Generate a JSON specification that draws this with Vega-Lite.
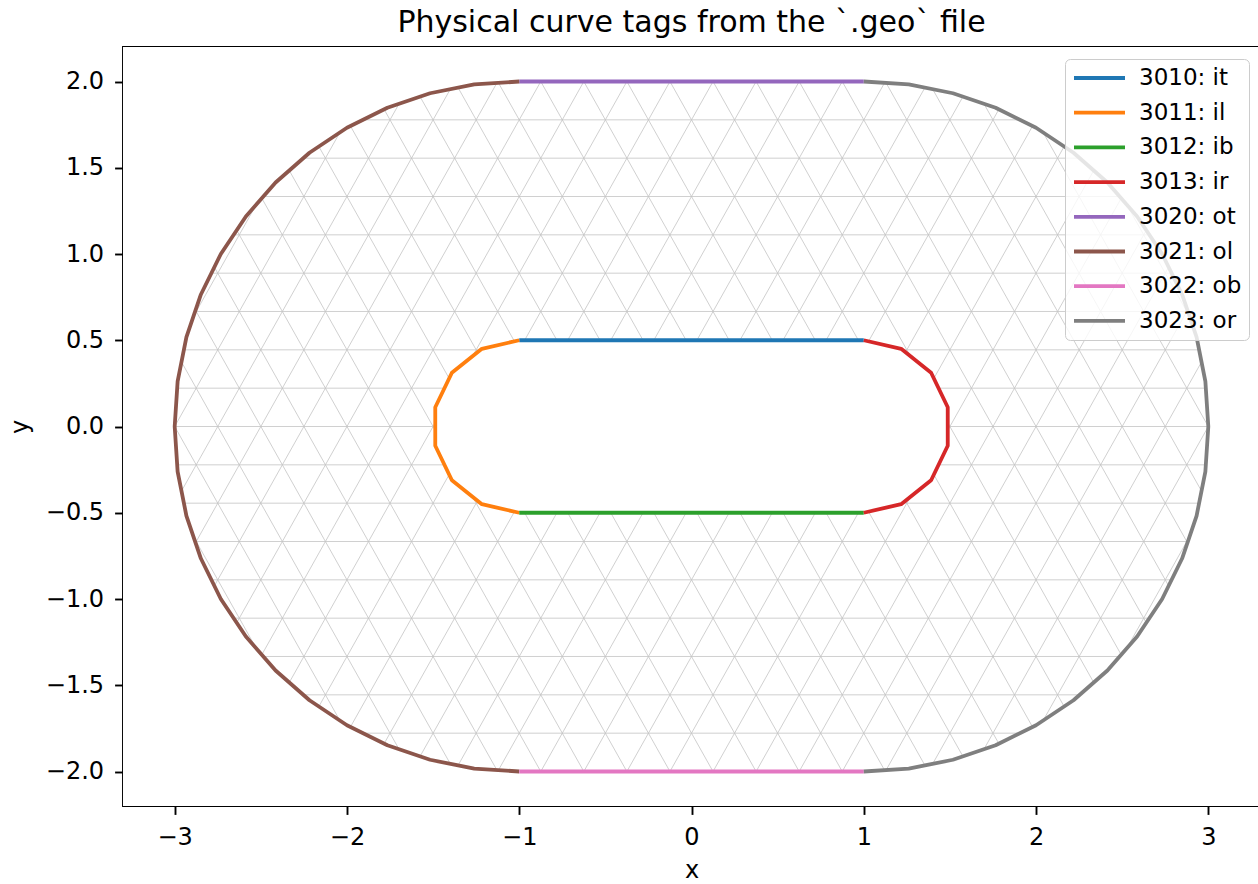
{
"$schema": "https://vega.github.io/schema/vega-lite/v6.json",
"width": 1137, "height": 759,
"autosize": {"type": "none"},
"padding": {"left": 123, "top": 47, "right": 0, "bottom": 78},
"background": "white",
"title": {"text": "Physical curve tags from the `.geo` file", "fontSize": 30, "font": "DejaVu Sans", "fontWeight": "normal", "color": "black", "anchor": "middle", "baseline": "alphabetic", "offset": 14, "dy": 29, "frame": "group"},
"config": {
  "font": "DejaVu Sans",
  "view": {"stroke": "black", "strokeWidth": 1.9},
  "axis": {"grid": false, "domain": false, "tickColor": "black", "tickWidth": 1.9, "tickSize": 8.4, "labelFontSize": 24, "labelColor": "black", "labelPadding": 11, "titleFontSize": 24, "titleFontWeight": "normal", "titleColor": "black", "labelFont": "DejaVu Sans", "titleFont": "DejaVu Sans", "labelFlush": false, "labelOverlap": false}
},
"encoding": {
  "x": {"field": "x", "type": "quantitative", "scale": {"domain": [-3.3, 3.3], "nice": false, "zero": false}, "axis": {"values": [-3,-2,-1,0,1,2,3], "format": "d", "title": "x", "titlePadding": 9.5}},
  "y": {"field": "y", "type": "quantitative", "scale": {"domain": [-2.2, 2.2], "nice": false, "zero": false}, "axis": {"values": [-2,-1.5,-1,-0.5,0,0.5,1,1.5,2], "format": ".1f", "title": "y", "titlePadding": 13}}
},
"layer": [
{
  "data": {"values": [
    {"x":-3.3,"y":-1.7778,"xe":3.3,"ye":-1.7778},
    {"x":-3.3,"y":-1.5556,"xe":3.3,"ye":-1.5556},
    {"x":-3.3,"y":-1.3333,"xe":3.3,"ye":-1.3333},
    {"x":-3.3,"y":-1.1111,"xe":3.3,"ye":-1.1111},
    {"x":-3.3,"y":-0.8889,"xe":3.3,"ye":-0.8889},
    {"x":-3.3,"y":-0.6667,"xe":3.3,"ye":-0.6667},
    {"x":-3.3,"y":-0.4444,"xe":3.3,"ye":-0.4444},
    {"x":-3.3,"y":-0.2222,"xe":3.3,"ye":-0.2222},
    {"x":-3.3,"y":0,"xe":3.3,"ye":0},
    {"x":-3.3,"y":0.2222,"xe":3.3,"ye":0.2222},
    {"x":-3.3,"y":0.4444,"xe":3.3,"ye":0.4444},
    {"x":-3.3,"y":0.6667,"xe":3.3,"ye":0.6667},
    {"x":-3.3,"y":0.8889,"xe":3.3,"ye":0.8889},
    {"x":-3.3,"y":1.1111,"xe":3.3,"ye":1.1111},
    {"x":-3.3,"y":1.3333,"xe":3.3,"ye":1.3333},
    {"x":-3.3,"y":1.5556,"xe":3.3,"ye":1.5556},
    {"x":-3.3,"y":1.7778,"xe":3.3,"ye":1.7778},
    {"x":-5.2375,"y":-2.2,"xe":-2.7625,"ye":2.2},
    {"x":-4.9875,"y":-2.2,"xe":-2.5125,"ye":2.2},
    {"x":-4.7375,"y":-2.2,"xe":-2.2625,"ye":2.2},
    {"x":-4.4875,"y":-2.2,"xe":-2.0125,"ye":2.2},
    {"x":-4.2375,"y":-2.2,"xe":-1.7625,"ye":2.2},
    {"x":-3.9875,"y":-2.2,"xe":-1.5125,"ye":2.2},
    {"x":-3.7375,"y":-2.2,"xe":-1.2625,"ye":2.2},
    {"x":-3.4875,"y":-2.2,"xe":-1.0125,"ye":2.2},
    {"x":-3.2375,"y":-2.2,"xe":-0.7625,"ye":2.2},
    {"x":-2.9875,"y":-2.2,"xe":-0.5125,"ye":2.2},
    {"x":-2.7375,"y":-2.2,"xe":-0.2625,"ye":2.2},
    {"x":-2.4875,"y":-2.2,"xe":-0.0125,"ye":2.2},
    {"x":-2.2375,"y":-2.2,"xe":0.2375,"ye":2.2},
    {"x":-1.9875,"y":-2.2,"xe":0.4875,"ye":2.2},
    {"x":-1.7375,"y":-2.2,"xe":0.7375,"ye":2.2},
    {"x":-1.4875,"y":-2.2,"xe":0.9875,"ye":2.2},
    {"x":-1.2375,"y":-2.2,"xe":1.2375,"ye":2.2},
    {"x":-0.9875,"y":-2.2,"xe":1.4875,"ye":2.2},
    {"x":-0.7375,"y":-2.2,"xe":1.7375,"ye":2.2},
    {"x":-0.4875,"y":-2.2,"xe":1.9875,"ye":2.2},
    {"x":-0.2375,"y":-2.2,"xe":2.2375,"ye":2.2},
    {"x":0.0125,"y":-2.2,"xe":2.4875,"ye":2.2},
    {"x":0.2625,"y":-2.2,"xe":2.7375,"ye":2.2},
    {"x":0.5125,"y":-2.2,"xe":2.9875,"ye":2.2},
    {"x":0.7625,"y":-2.2,"xe":3.2375,"ye":2.2},
    {"x":1.0125,"y":-2.2,"xe":3.4875,"ye":2.2},
    {"x":1.2625,"y":-2.2,"xe":3.7375,"ye":2.2},
    {"x":1.5125,"y":-2.2,"xe":3.9875,"ye":2.2},
    {"x":1.7625,"y":-2.2,"xe":4.2375,"ye":2.2},
    {"x":2.0125,"y":-2.2,"xe":4.4875,"ye":2.2},
    {"x":2.2625,"y":-2.2,"xe":4.7375,"ye":2.2},
    {"x":2.5125,"y":-2.2,"xe":4.9875,"ye":2.2},
    {"x":2.7625,"y":-2.2,"xe":5.2375,"ye":2.2},
    {"x":-5.2375,"y":2.2,"xe":-2.7625,"ye":-2.2},
    {"x":-4.9875,"y":2.2,"xe":-2.5125,"ye":-2.2},
    {"x":-4.7375,"y":2.2,"xe":-2.2625,"ye":-2.2},
    {"x":-4.4875,"y":2.2,"xe":-2.0125,"ye":-2.2},
    {"x":-4.2375,"y":2.2,"xe":-1.7625,"ye":-2.2},
    {"x":-3.9875,"y":2.2,"xe":-1.5125,"ye":-2.2},
    {"x":-3.7375,"y":2.2,"xe":-1.2625,"ye":-2.2},
    {"x":-3.4875,"y":2.2,"xe":-1.0125,"ye":-2.2},
    {"x":-3.2375,"y":2.2,"xe":-0.7625,"ye":-2.2},
    {"x":-2.9875,"y":2.2,"xe":-0.5125,"ye":-2.2},
    {"x":-2.7375,"y":2.2,"xe":-0.2625,"ye":-2.2},
    {"x":-2.4875,"y":2.2,"xe":-0.0125,"ye":-2.2},
    {"x":-2.2375,"y":2.2,"xe":0.2375,"ye":-2.2},
    {"x":-1.9875,"y":2.2,"xe":0.4875,"ye":-2.2},
    {"x":-1.7375,"y":2.2,"xe":0.7375,"ye":-2.2},
    {"x":-1.4875,"y":2.2,"xe":0.9875,"ye":-2.2},
    {"x":-1.2375,"y":2.2,"xe":1.2375,"ye":-2.2},
    {"x":-0.9875,"y":2.2,"xe":1.4875,"ye":-2.2},
    {"x":-0.7375,"y":2.2,"xe":1.7375,"ye":-2.2},
    {"x":-0.4875,"y":2.2,"xe":1.9875,"ye":-2.2},
    {"x":-0.2375,"y":2.2,"xe":2.2375,"ye":-2.2},
    {"x":0.0125,"y":2.2,"xe":2.4875,"ye":-2.2},
    {"x":0.2625,"y":2.2,"xe":2.7375,"ye":-2.2},
    {"x":0.5125,"y":2.2,"xe":2.9875,"ye":-2.2},
    {"x":0.7625,"y":2.2,"xe":3.2375,"ye":-2.2},
    {"x":1.0125,"y":2.2,"xe":3.4875,"ye":-2.2},
    {"x":1.2625,"y":2.2,"xe":3.7375,"ye":-2.2},
    {"x":1.5125,"y":2.2,"xe":3.9875,"ye":-2.2},
    {"x":1.7625,"y":2.2,"xe":4.2375,"ye":-2.2},
    {"x":2.0125,"y":2.2,"xe":4.4875,"ye":-2.2},
    {"x":2.2625,"y":2.2,"xe":4.7375,"ye":-2.2},
    {"x":2.5125,"y":2.2,"xe":4.9875,"ye":-2.2},
    {"x":2.7625,"y":2.2,"xe":5.2375,"ye":-2.2}
  ]},
  "mark": {"type": "rule", "clip": true, "stroke": "#c4c4c4", "strokeWidth": 0.8},
  "encoding": {"x2": {"field": "xe"}, "y2": {"field": "ye"}}
},
{
  "data": {"values": [
    {"poly":"mask","i":0,"x":-3.3,"y":2.2},
    {"poly":"mask","i":1,"x":3.3,"y":2.2},
    {"poly":"mask","i":2,"x":3.3,"y":-2.2},
    {"poly":"mask","i":3,"x":-3.3,"y":-2.2},
    {"poly":"mask","i":4,"x":-3.3,"y":0},
    {"poly":"mask","i":5,"x":-3,"y":0},
    {"poly":"mask","i":6,"x":-2.9829,"y":-0.2611},
    {"poly":"mask","i":7,"x":-2.9319,"y":-0.5176},
    {"poly":"mask","i":8,"x":-2.8478,"y":-0.7654},
    {"poly":"mask","i":9,"x":-2.7321,"y":-1},
    {"poly":"mask","i":10,"x":-2.5867,"y":-1.2175},
    {"poly":"mask","i":11,"x":-2.4142,"y":-1.4142},
    {"poly":"mask","i":12,"x":-2.2175,"y":-1.5867},
    {"poly":"mask","i":13,"x":-2,"y":-1.7321},
    {"poly":"mask","i":14,"x":-1.7654,"y":-1.8478},
    {"poly":"mask","i":15,"x":-1.5176,"y":-1.9319},
    {"poly":"mask","i":16,"x":-1.2611,"y":-1.9829},
    {"poly":"mask","i":17,"x":-1,"y":-2},
    {"poly":"mask","i":18,"x":1,"y":-2},
    {"poly":"mask","i":19,"x":1.2611,"y":-1.9829},
    {"poly":"mask","i":20,"x":1.5176,"y":-1.9319},
    {"poly":"mask","i":21,"x":1.7654,"y":-1.8478},
    {"poly":"mask","i":22,"x":2,"y":-1.7321},
    {"poly":"mask","i":23,"x":2.2175,"y":-1.5867},
    {"poly":"mask","i":24,"x":2.4142,"y":-1.4142},
    {"poly":"mask","i":25,"x":2.5867,"y":-1.2175},
    {"poly":"mask","i":26,"x":2.7321,"y":-1},
    {"poly":"mask","i":27,"x":2.8478,"y":-0.7654},
    {"poly":"mask","i":28,"x":2.9319,"y":-0.5176},
    {"poly":"mask","i":29,"x":2.9829,"y":-0.2611},
    {"poly":"mask","i":30,"x":3,"y":0},
    {"poly":"mask","i":31,"x":2.9829,"y":0.2611},
    {"poly":"mask","i":32,"x":2.9319,"y":0.5176},
    {"poly":"mask","i":33,"x":2.8478,"y":0.7654},
    {"poly":"mask","i":34,"x":2.7321,"y":1},
    {"poly":"mask","i":35,"x":2.5867,"y":1.2175},
    {"poly":"mask","i":36,"x":2.4142,"y":1.4142},
    {"poly":"mask","i":37,"x":2.2175,"y":1.5867},
    {"poly":"mask","i":38,"x":2,"y":1.7321},
    {"poly":"mask","i":39,"x":1.7654,"y":1.8478},
    {"poly":"mask","i":40,"x":1.5176,"y":1.9319},
    {"poly":"mask","i":41,"x":1.2611,"y":1.9829},
    {"poly":"mask","i":42,"x":1,"y":2},
    {"poly":"mask","i":43,"x":-1,"y":2},
    {"poly":"mask","i":44,"x":-1.2611,"y":1.9829},
    {"poly":"mask","i":45,"x":-1.5176,"y":1.9319},
    {"poly":"mask","i":46,"x":-1.7654,"y":1.8478},
    {"poly":"mask","i":47,"x":-2,"y":1.7321},
    {"poly":"mask","i":48,"x":-2.2175,"y":1.5867},
    {"poly":"mask","i":49,"x":-2.4142,"y":1.4142},
    {"poly":"mask","i":50,"x":-2.5867,"y":1.2175},
    {"poly":"mask","i":51,"x":-2.7321,"y":1},
    {"poly":"mask","i":52,"x":-2.8478,"y":0.7654},
    {"poly":"mask","i":53,"x":-2.9319,"y":0.5176},
    {"poly":"mask","i":54,"x":-2.9829,"y":0.2611},
    {"poly":"mask","i":55,"x":-3,"y":0},
    {"poly":"mask","i":56,"x":-3.3,"y":0},
    {"poly":"mask","i":57,"x":-3.3,"y":2.2},
    {"poly":"hole","i":0,"x":-1,"y":0.5},
    {"poly":"hole","i":1,"x":1,"y":0.5},
    {"poly":"hole","i":2,"x":1.2169,"y":0.4505},
    {"poly":"hole","i":3,"x":1.3909,"y":0.3117},
    {"poly":"hole","i":4,"x":1.4874,"y":0.1113},
    {"poly":"hole","i":5,"x":1.4874,"y":-0.1113},
    {"poly":"hole","i":6,"x":1.3909,"y":-0.3117},
    {"poly":"hole","i":7,"x":1.2169,"y":-0.4505},
    {"poly":"hole","i":8,"x":1,"y":-0.5},
    {"poly":"hole","i":9,"x":-1,"y":-0.5},
    {"poly":"hole","i":10,"x":-1.2169,"y":-0.4505},
    {"poly":"hole","i":11,"x":-1.3909,"y":-0.3117},
    {"poly":"hole","i":12,"x":-1.4874,"y":-0.1113},
    {"poly":"hole","i":13,"x":-1.4874,"y":0.1113},
    {"poly":"hole","i":14,"x":-1.3909,"y":0.3117},
    {"poly":"hole","i":15,"x":-1.2169,"y":0.4505},
    {"poly":"hole","i":16,"x":-1,"y":0.5}
  ]},
  "mark": {"type": "line", "clip": true, "fill": "white", "stroke": "white", "strokeWidth": 1},
  "encoding": {"detail": {"field": "poly", "type": "nominal"}, "order": {"field": "i", "type": "quantitative"}}
},
{
  "data": {"values": [
    {"tag":"3010: it","i":0,"x":-1,"y":0.5},
    {"tag":"3010: it","i":1,"x":1,"y":0.5},
    {"tag":"3011: il","i":0,"x":-1,"y":0.5},
    {"tag":"3011: il","i":1,"x":-1.2169,"y":0.4505},
    {"tag":"3011: il","i":2,"x":-1.3909,"y":0.3117},
    {"tag":"3011: il","i":3,"x":-1.4874,"y":0.1113},
    {"tag":"3011: il","i":4,"x":-1.4874,"y":-0.1113},
    {"tag":"3011: il","i":5,"x":-1.3909,"y":-0.3117},
    {"tag":"3011: il","i":6,"x":-1.2169,"y":-0.4505},
    {"tag":"3011: il","i":7,"x":-1,"y":-0.5},
    {"tag":"3012: ib","i":0,"x":-1,"y":-0.5},
    {"tag":"3012: ib","i":1,"x":1,"y":-0.5},
    {"tag":"3013: ir","i":0,"x":1,"y":0.5},
    {"tag":"3013: ir","i":1,"x":1.2169,"y":0.4505},
    {"tag":"3013: ir","i":2,"x":1.3909,"y":0.3117},
    {"tag":"3013: ir","i":3,"x":1.4874,"y":0.1113},
    {"tag":"3013: ir","i":4,"x":1.4874,"y":-0.1113},
    {"tag":"3013: ir","i":5,"x":1.3909,"y":-0.3117},
    {"tag":"3013: ir","i":6,"x":1.2169,"y":-0.4505},
    {"tag":"3013: ir","i":7,"x":1,"y":-0.5},
    {"tag":"3020: ot","i":0,"x":-1,"y":2},
    {"tag":"3020: ot","i":1,"x":1,"y":2},
    {"tag":"3021: ol","i":0,"x":-1,"y":2},
    {"tag":"3021: ol","i":1,"x":-1.2611,"y":1.9829},
    {"tag":"3021: ol","i":2,"x":-1.5176,"y":1.9319},
    {"tag":"3021: ol","i":3,"x":-1.7654,"y":1.8478},
    {"tag":"3021: ol","i":4,"x":-2,"y":1.7321},
    {"tag":"3021: ol","i":5,"x":-2.2175,"y":1.5867},
    {"tag":"3021: ol","i":6,"x":-2.4142,"y":1.4142},
    {"tag":"3021: ol","i":7,"x":-2.5867,"y":1.2175},
    {"tag":"3021: ol","i":8,"x":-2.7321,"y":1},
    {"tag":"3021: ol","i":9,"x":-2.8478,"y":0.7654},
    {"tag":"3021: ol","i":10,"x":-2.9319,"y":0.5176},
    {"tag":"3021: ol","i":11,"x":-2.9829,"y":0.2611},
    {"tag":"3021: ol","i":12,"x":-3,"y":0},
    {"tag":"3021: ol","i":13,"x":-2.9829,"y":-0.2611},
    {"tag":"3021: ol","i":14,"x":-2.9319,"y":-0.5176},
    {"tag":"3021: ol","i":15,"x":-2.8478,"y":-0.7654},
    {"tag":"3021: ol","i":16,"x":-2.7321,"y":-1},
    {"tag":"3021: ol","i":17,"x":-2.5867,"y":-1.2175},
    {"tag":"3021: ol","i":18,"x":-2.4142,"y":-1.4142},
    {"tag":"3021: ol","i":19,"x":-2.2175,"y":-1.5867},
    {"tag":"3021: ol","i":20,"x":-2,"y":-1.7321},
    {"tag":"3021: ol","i":21,"x":-1.7654,"y":-1.8478},
    {"tag":"3021: ol","i":22,"x":-1.5176,"y":-1.9319},
    {"tag":"3021: ol","i":23,"x":-1.2611,"y":-1.9829},
    {"tag":"3021: ol","i":24,"x":-1,"y":-2},
    {"tag":"3022: ob","i":0,"x":-1,"y":-2},
    {"tag":"3022: ob","i":1,"x":1,"y":-2},
    {"tag":"3023: or","i":0,"x":1,"y":2},
    {"tag":"3023: or","i":1,"x":1.2611,"y":1.9829},
    {"tag":"3023: or","i":2,"x":1.5176,"y":1.9319},
    {"tag":"3023: or","i":3,"x":1.7654,"y":1.8478},
    {"tag":"3023: or","i":4,"x":2,"y":1.7321},
    {"tag":"3023: or","i":5,"x":2.2175,"y":1.5867},
    {"tag":"3023: or","i":6,"x":2.4142,"y":1.4142},
    {"tag":"3023: or","i":7,"x":2.5867,"y":1.2175},
    {"tag":"3023: or","i":8,"x":2.7321,"y":1},
    {"tag":"3023: or","i":9,"x":2.8478,"y":0.7654},
    {"tag":"3023: or","i":10,"x":2.9319,"y":0.5176},
    {"tag":"3023: or","i":11,"x":2.9829,"y":0.2611},
    {"tag":"3023: or","i":12,"x":3,"y":0},
    {"tag":"3023: or","i":13,"x":2.9829,"y":-0.2611},
    {"tag":"3023: or","i":14,"x":2.9319,"y":-0.5176},
    {"tag":"3023: or","i":15,"x":2.8478,"y":-0.7654},
    {"tag":"3023: or","i":16,"x":2.7321,"y":-1},
    {"tag":"3023: or","i":17,"x":2.5867,"y":-1.2175},
    {"tag":"3023: or","i":18,"x":2.4142,"y":-1.4142},
    {"tag":"3023: or","i":19,"x":2.2175,"y":-1.5867},
    {"tag":"3023: or","i":20,"x":2,"y":-1.7321},
    {"tag":"3023: or","i":21,"x":1.7654,"y":-1.8478},
    {"tag":"3023: or","i":22,"x":1.5176,"y":-1.9319},
    {"tag":"3023: or","i":23,"x":1.2611,"y":-1.9829},
    {"tag":"3023: or","i":24,"x":1,"y":-2}
  ]},
  "mark": {"type": "line", "strokeWidth": 3.8, "strokeJoin": "round"},
  "encoding": {
    "order": {"field": "i", "type": "quantitative"},
    "color": {"field": "tag", "type": "nominal",
      "scale": {"domain": ["3010: it","3011: il","3012: ib","3013: ir","3020: ot","3021: ol","3022: ob","3023: or"], "range": ["#1f77b4","#ff7f0e","#2ca02c","#d62728","#9467bd","#8c564b","#e377c2","#7f7f7f"]},
      "legend": {"orient": "none", "legendX": 942, "legendY": 12, "title": null, "symbolType": "stroke", "symbolSize": 2601, "symbolStrokeWidth": 3.8, "clipHeight": 24, "labelFontSize": 23, "labelFont": "DejaVu Sans", "labelColor": "black", "labelOffset": 12, "rowPadding": 10.7, "padding": 7, "fillColor": "rgba(255,255,255,0.8)", "strokeColor": "#cccccc", "cornerRadius": 5, "labelLimit": 0}
    }
  }
}
]
}
